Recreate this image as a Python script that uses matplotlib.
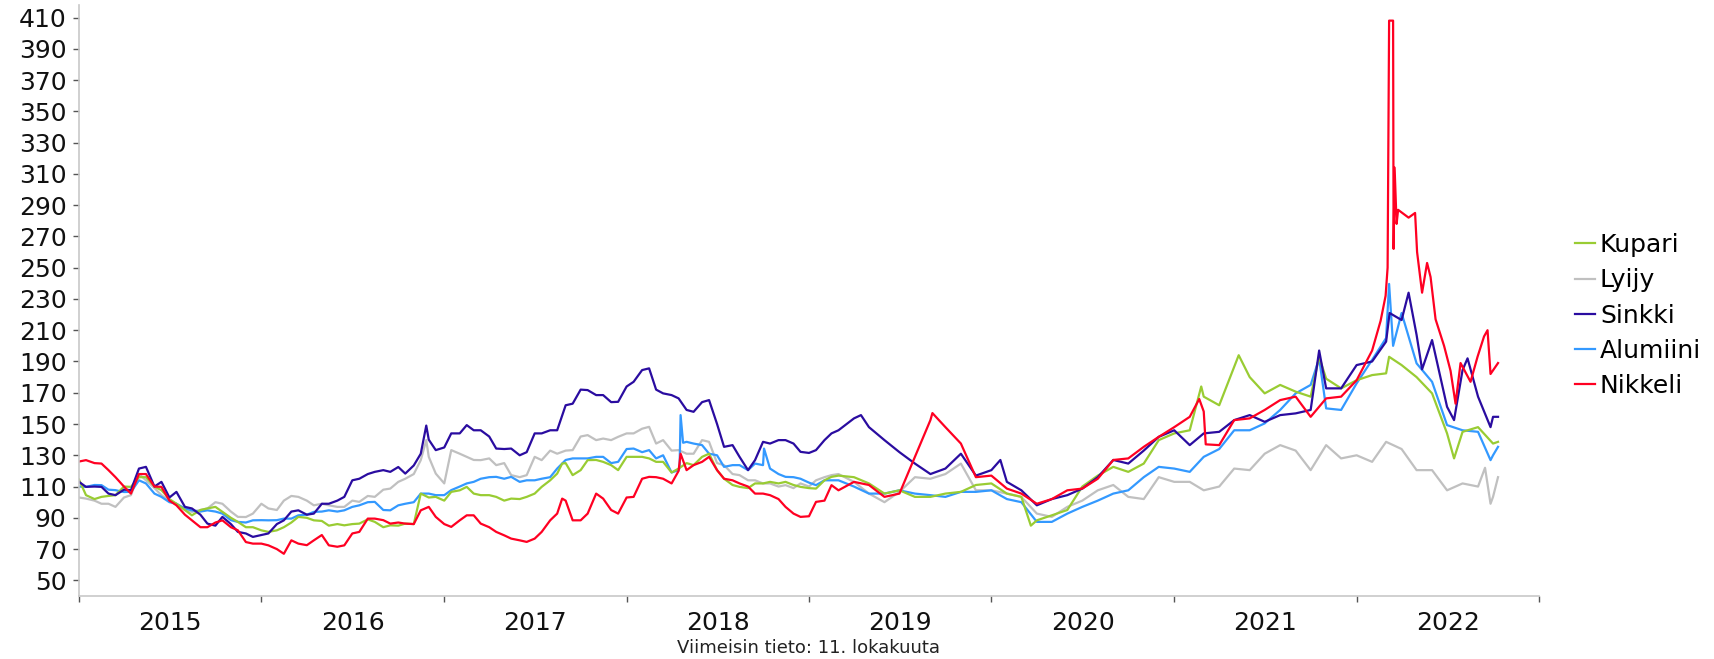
import matplotlib
matplotlib.use('Agg')
import matplotlib.pyplot as plt
import matplotlib.ticker as mticker
import pandas as pd

# Readings on the 1st of each month, Jan 2015 ... Oct 2022 (index values)
kupari = [114.5, 102, 104, 110, 116, 110, 102, 95, 95, 97, 90, 84,
          82, 82, 87, 90, 88, 86, 86, 89, 84, 85, 86, 103,
          101, 107.6, 105.5, 104.5, 101, 102, 105.5, 114, 125, 120.5, 127, 123.7,
          129, 129, 125.8, 119, 125, 129, 120.5, 111, 109, 112, 112, 111,
          109, 114, 117, 116, 112, 105.5, 107.6, 103.4, 103.4, 105.5, 106.6, 111,
          112, 105.5, 103.4, 88.4, 91.6, 95, 110, 117, 122.6, 119.4, 124.7, 139.7,
          144, 146, 167.5, 162, 186.6, 180, 169.6, 175, 170.7, 167.5, 179, 172.8,
          178, 181.3, 182.4, 187.7, 180, 169.6, 144, 145, 148, 137.5]
# Readings on the 15th of each month, Jan 2015 ... Feb 2019
kupari_mid = [104.5, 103.4, 104.5, 109.8, 116, 107.7, 99, 91.6, 96, 93.8, 87.4, 84,
              81, 84, 90.6, 88.4, 85, 85.2, 86.3, 87.4, 85.2, 86.3, 105.5, 103.4,
              106.6, 109.8, 104.5, 103.4, 102.3, 103.4, 109.8, 118.3, 117.3, 126.9, 125.8, 120.5,
              129, 128, 125.8, 121.5, 123.7, 131, 115, 109.8, 112, 113, 113, 109.8,
              108.7, 116.2]
kupari_extra_dates = ['2017-08-25', '2020-03-20', '2021-02-24', '2021-05-10',
                      '2021-10-18', '2022-03-07', '2022-07-15', '2022-10-11']
kupari_extra_vals = [124.7, 85, 174, 194, 193, 193, 128, 138.6]

lyijy = [103, 101, 99, 103, 118, 109, 101, 95, 95, 100, 94, 90.5,
         99, 95, 104, 101, 99, 97, 101, 104, 108, 113, 118, 129,
         112, 131, 127, 128, 125, 116, 129, 133, 133, 142, 139.7, 139.7,
         144, 147, 137.5, 133, 131, 139.7, 125, 118, 114, 112, 110, 109,
         110, 116, 118, 113, 105.5, 100, 106.6, 116, 115, 118, 124.7, 107.6,
         107.6, 105.5, 103.4, 92.7, 90.6, 97, 101, 107.6, 111, 103.4, 102, 116,
         113, 113, 107.6, 110, 121.5, 120.5, 131, 136.5, 133, 120.5, 136.5, 128,
         130, 125.8, 138.6, 134, 120.5, 120.5, 107.6, 112, 110, 103.4]
lyijy_mid = [102.3, 99, 97, 104.5, 114, 104.5, 99, 93.8, 96, 99, 90.6, 92.7,
             96, 101, 103.4, 98, 98, 97, 100.2, 103.4, 108.7, 115, 126.9, 118.3,
             133.3, 129, 126.9, 123.7, 117.3, 117.3, 126.9, 131, 133.3, 142.9, 140.7, 141.8,
             144, 148.2, 139.7, 133.3, 131, 138.6, 123.7, 117.3, 114, 112, 110.9, 112,
             114, 117.3]
lyijy_extra_dates = ['2016-11-26', '2022-09-15', '2022-09-26', '2022-10-11']
lyijy_extra_vals = [139.7, 122, 99, 116]

sinkki = [113, 110, 105.5, 108, 121.5, 110, 103, 97, 92, 85, 86, 80,
          79, 86, 94, 92, 99, 101, 114, 118, 120.5, 122.5, 123.5, 140,
          135, 144, 146, 142, 134, 130, 144, 146, 162, 172, 168.5, 164,
          174, 184.5, 172, 168.5, 159, 164, 150, 136.5, 120.5, 138.6, 139.7, 137.5,
          131.5, 139.7, 146, 153.6, 148, 139.7, 132, 124.7, 118, 121.5, 131, 117,
          120.5, 113, 107.6, 98, 102, 104.5, 108.7, 116, 127, 124.7, 133, 141.8,
          146, 136.5, 144, 145, 152.5, 155.7, 151.4, 155.7, 156.8, 159, 172.8, 172.8,
          187.7, 190, 202.7, 216.5, 207, 203.7, 161, 184.5, 167.5, 154.6]
sinkki_mid = [109.8, 109.8, 104.5, 107.7, 122.6, 113, 106.6, 96, 86.3, 90.6, 81, 77.8,
              80, 88.4, 94.8, 92.7, 99, 103.4, 115, 119.4, 119.4, 118.3, 131, 133.3,
              144, 149.3, 146, 134.3, 134.3, 132, 144, 146, 163, 171.7, 168.5, 164.2,
              177, 185.6, 169.6, 166.4, 157.8, 165.3, 135.4, 129, 126.9, 137.5, 139.7, 132.2,
              133.3, 144]
sinkki_extra_dates = ['2016-11-26', '2019-04-15', '2020-01-19',
                      '2021-10-18', '2022-03-08', '2022-04-15', '2022-05-12',
                      '2022-07-15', '2022-08-11', '2022-09-26', '2022-10-11']
sinkki_extra_vals = [149, 155.7, 127, 197, 221, 234, 185,
                     152.5, 192, 148, 154.6]

alumiini = [110, 111, 108, 106.5, 114, 105.5, 100, 96, 94, 94, 88.5, 87,
            88.5, 88.5, 89.5, 92, 94, 94, 97, 100, 95, 98, 100, 105.5,
            104.5, 110, 113, 116, 115, 113, 114, 116, 127, 128, 129, 125,
            134, 132, 128, 119, 138.6, 136.5, 130, 123.7, 120.5, 123.7, 118, 116,
            112.5, 114, 114, 110, 105.5, 105.5, 107.6, 105.5, 104.5, 103.4, 106.6, 106.6,
            107.6, 102, 100, 87.4, 87.4, 92.7, 97, 101, 105.5, 107.6, 116, 122.6,
            121.5, 119.4, 129, 134, 146, 146, 150.4, 159, 169.6, 175, 160, 159,
            176, 191, 205, 221, 188.8, 177, 149.3, 146, 145, 130]
alumiini_mid = [109.8, 110.9, 107.7, 106.6, 112, 103.4, 99, 94.8, 94.8, 92.7, 87.4, 88.4,
                88.4, 89.5, 91.6, 93.8, 94.8, 94.8, 98, 100.2, 94.8, 99, 105.5, 104.5,
                107.7, 112, 115, 116.2, 116.2, 114, 115, 121.5, 128, 128, 129, 125.8,
                134.3, 133.3, 130, 120.5, 137.5, 131, 122.6, 123.7, 124.7, 121.5, 116.2, 115,
                110.9, 114]
alumiini_extra_dates = ['2018-04-17', '2018-04-19', '2018-04-24', '2018-10-03',
                        '2021-10-18', '2022-03-07', '2022-03-15', '2022-09-26',
                        '2022-10-11']
alumiini_extra_vals = [122, 155.7, 138, 134.3, 192, 239.6, 200, 126.9, 135.4]

nikkeli = [126, 125, 120.5, 110, 118, 110, 101, 92, 84, 87, 84, 74.5,
           73.5, 70, 75.6, 72.5, 79, 71.5, 80, 89.5, 88.5, 87, 86, 97,
           86, 88.4, 91.6, 84, 78.8, 75.6, 76.7, 88.4, 101, 88.4, 105.5, 95,
           103, 115, 116, 112, 120.5, 125.8, 120.5, 114, 110, 105.5, 102, 92.7,
           91, 101, 107.6, 113, 111, 103.4, 105.5, 129, 152.5, 148, 137.5, 116,
           117, 108.7, 105.5, 99, 102, 107.6, 108.7, 115, 127, 128, 135.4, 141.8,
           148, 154.6, 158, 136.5, 152.5, 153.6, 159, 165.3, 167.5, 154.6, 166.4, 167.5,
           178, 197]
nikkeli_mid = [126.9, 124.7, 116, 105.5, 118, 109.8, 98, 88.4, 84, 88.4, 82, 73.5,
               72.4, 67, 73.5, 75.6, 72.4, 72.4, 81, 89.5, 86.3, 86.3, 94.8, 90.6,
               84.2, 91.6, 86.3, 81, 76.7, 74.6, 81, 92.7, 88.4, 92.7, 102.3, 92.7,
               103.4, 116.2, 115, 120, 123.7, 129, 115, 112, 105.5, 104.5, 97, 90.6,
               100.2, 110.9]
nikkeli_extra_dates = ['2017-08-25', '2018-04-19', '2019-09-05', '2021-02-20',
                       '2021-03-05',
                       '2022-02-18', '2022-02-28', '2022-03-04', '2022-03-07',
                       '2022-03-15', '2022-03-16', '2022-03-18', '2022-03-22',
                       '2022-03-25', '2022-04-15', '2022-04-28', '2022-05-02',
                       '2022-05-12', '2022-05-22', '2022-05-29', '2022-06-08',
                       '2022-06-25', '2022-07-08', '2022-07-18', '2022-07-28',
                       '2022-08-17', '2022-08-31', '2022-09-13', '2022-09-20',
                       '2022-09-26', '2022-10-11']
nikkeli_extra_vals = [102.3, 131, 157, 166, 137,
                      216, 232, 250, 408, 408, 262, 314, 278, 287, 282, 285,
                      260, 234, 253, 244, 217, 200, 184, 163, 189, 177, 193,
                      206, 210, 182, 189]

names = ['Kupari', 'Lyijy', 'Sinkki', 'Alumiini', 'Nikkeli']
colors = ['#99CC33', '#C0C0C0', '#2A0CA0', '#3399FF', '#FF0022']
years = list(range(2015, 2023))
yticks = list(range(50, 411, 20))
footer = 'Viimeisin tieto: 11. lokakuuta'

months = pd.date_range('2015-01-01', periods=94, freq='MS')
mids = months + pd.Timedelta(days=14)


def build(monthly, mid, extra_dates, extra_vals):
    s = pd.Series(monthly, index=months[:len(monthly)], dtype=float)
    m = pd.Series(mid, index=mids[:len(mid)], dtype=float)
    e = pd.Series(extra_vals, index=pd.to_datetime(extra_dates), dtype=float)
    out = pd.concat([s, m, e]).sort_index()
    return out[~out.index.duplicated(keep='last')]


series = {
    'Kupari': build(kupari, kupari_mid, kupari_extra_dates, kupari_extra_vals),
    'Lyijy': build(lyijy, lyijy_mid, lyijy_extra_dates, lyijy_extra_vals),
    'Sinkki': build(sinkki, sinkki_mid, sinkki_extra_dates, sinkki_extra_vals),
    'Alumiini': build(alumiini, alumiini_mid, alumiini_extra_dates, alumiini_extra_vals),
    'Nikkeli': build(nikkeli, nikkeli_mid, nikkeli_extra_dates, nikkeli_extra_vals),
}

plt.rcParams['font.family'] = ['DejaVu Sans']
fig = plt.figure(figsize=(17.15, 6.59), dpi=100)
ax = fig.add_axes([79 / 1715, 1 - 596 / 659, (1539 - 79) / 1715, (596 - 5) / 659])

draw_order = ['Lyijy', 'Alumiini', 'Kupari', 'Sinkki', 'Nikkeli']
handles = {}
for name in draw_order:
    c = colors[names.index(name)]
    s = series[name]
    ln, = ax.plot(s.index, s.values, color=c, lw=1.6, solid_joinstyle='round')
    handles[name] = ln

ax.set_xlim(pd.Timestamp('2015-01-01'), pd.Timestamp('2023-01-01'))
ax.set_ylim(40, 418)
ax.set_yticks(yticks)
ax.yaxis.set_major_formatter(mticker.FuncFormatter(lambda v, p: f'{int(v)}'))

ax.set_xticks([pd.Timestamp(f'{y}-01-01') for y in years + [2023]])
ax.set_xticklabels([])
ax.set_xticks([pd.Timestamp(f'{y}-07-02') for y in years], minor=True)
ax.set_xticklabels([str(y) for y in years], minor=True)

for sp in ['top', 'right']:
    ax.spines[sp].set_visible(False)
for sp in ['left', 'bottom']:
    ax.spines[sp].set_color('#C8C8C8')
    ax.spines[sp].set_linewidth(1.2)

ax.tick_params(axis='y', which='major', length=4, width=1, color='#555555',
               labelsize=18, pad=5, labelcolor='#111111')
ax.tick_params(axis='x', which='major', length=4, width=1, color='#555555')
ax.tick_params(axis='x', which='minor', length=0, labelsize=18, pad=11,
               labelcolor='#111111')

leg = fig.legend([handles[n] for n in names], names, loc='upper left',
                 bbox_to_anchor=(1575 / 1715, 1 - 233 / 659), frameon=False,
                 fontsize=18, handlelength=0.8, handletextpad=0.2,
                 labelspacing=0.45, borderpad=0, borderaxespad=0)

fig.text(809 / 1715, 1 - 648 / 659, footer, ha='center', va='center',
         fontsize=13, color='#222222')

fig.savefig('out.png', dpi=100)
